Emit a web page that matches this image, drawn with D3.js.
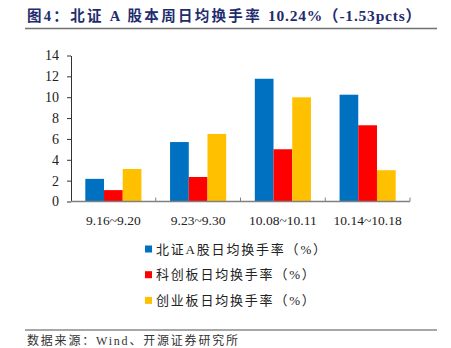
<!DOCTYPE html>
<html>
<head>
<meta charset="utf-8">
<script src="https://cdn.jsdelivr.net/npm/d3@7/dist/d3.min.js"></script>
<style>
  html, body { margin: 0; padding: 0; background: #fff; }
  svg { display: block; }
</style>
</head>
<body>
<svg id="chart" width="451" height="348"></svg>
<script>
// Weekly average turnover rate by board (%)
const categories = ["9.16~9.20", "9.23~9.30", "10.08~10.11", "10.14~10.18"];
const seriesNames = ["北证A股日均换手率（%）", "科创板日均换手率（%）", "创业板日均换手率（%）"];
const bseValues = [2.17, 5.7, 11.77, 10.24];
const starValues = [1.09, 2.35, 5.01, 7.31];
const chinextValues = [3.12, 6.48, 9.99, 3.0];
const yTicks = [0, 2, 4, 6, 8, 10, 12, 14];
const colors = ["#0070C0", "#FF0000", "#FFC000"];

const seriesValues = [bseValues, starValues, chinextValues];

const svg = d3.select("#chart");
const serif = "'Liberation Serif', 'Times New Roman', 'Noto Sans CJK SC', serif";
const cjk = "'Liberation Serif', 'Noto Sans CJK SC', serif";

// Title and rule
const title = svg.append("text")
  .attr("x", 27).attr("y", 21)
  .attr("font-family", cjk)
  .attr("font-size", 14.5)
  .attr("font-weight", "bold")
  .attr("fill", "#1F2C6E");
title.append("tspan").attr("letter-spacing", 2.3).text("图4：北证 A 股本周日均换手率 ");
title.append("tspan").attr("letter-spacing", 0.8).attr("font-size", 15.5).text("10.24%（-1.53pcts）");
svg.append("line")
  .attr("x1", 25).attr("x2", 437).attr("y1", 28.5).attr("y2", 28.5)
  .attr("stroke", "#707070").attr("stroke-width", 1.6);

// Scales
const x0 = d3.scaleBand().domain(categories).range([71, 410]).padding(0);
const x1 = d3.scaleBand().domain(d3.range(seriesNames.length))
  .range([0, x0.bandwidth()]).paddingInner(0).paddingOuter(0.765);
const y = d3.scaleLinear().domain([0, 14]).range([201.5, 55.5]);

// Bars
categories.forEach((c, ci) => {
  seriesValues.forEach((vals, si) => {
    svg.append("rect")
      .attr("x", x0(c) + x1(si))
      .attr("y", y(vals[ci]))
      .attr("width", x1.bandwidth())
      .attr("height", y(0) - y(vals[ci]))
      .attr("fill", colors[si]);
  });
});

// Y axis
const yAxis = svg.append("g")
  .attr("transform", "translate(71,0)")
  .call(d3.axisLeft(y).tickValues(yTicks).tickSize(4).tickSizeOuter(0).tickPadding(8));
yAxis.select(".domain").attr("stroke", "#333").attr("stroke-width", 1);
yAxis.selectAll(".tick line").attr("stroke", "#333");
yAxis.selectAll("text")
  .attr("font-family", serif).attr("font-size", 14).attr("fill", "#222");

// X axis with inward ticks at category boundaries
const xAxisG = svg.append("g").attr("transform", `translate(0,${y(0)})`);
xAxisG.append("line")
  .attr("x1", 71).attr("x2", 410).attr("y1", 0).attr("y2", 0)
  .attr("stroke", "#808080").attr("stroke-width", 1.5);
const boundaries = categories.map(c => x0(c) + x0.bandwidth());
xAxisG.selectAll(".bound").data(boundaries).enter().append("line")
  .attr("x1", d => d).attr("x2", d => d).attr("y1", 0).attr("y2", -4)
  .attr("stroke", "#808080").attr("stroke-width", 1);
xAxisG.selectAll(".cat").data(categories).enter().append("text")
  .attr("x", d => x0(d) + x0.bandwidth() / 2)
  .attr("y", 23)
  .attr("text-anchor", "middle")
  .attr("font-family", serif).attr("font-size", 13.5).attr("fill", "#222")
  .text(d => d);

// Legend
const legend = svg.append("g");
seriesNames.forEach((name, i) => {
  const ly = 249 + i * 25.7;
  legend.append("rect")
    .attr("x", 145).attr("y", ly - 3.5).attr("width", 7).attr("height", 7)
    .attr("fill", colors[i]);
  legend.append("text")
    .attr("x", 156).attr("y", ly + 4.5)
    .attr("font-family", cjk).attr("font-size", 13).attr("fill", "#222")
    .attr("letter-spacing", 1.8)
    .text(name);
});

// Source note
svg.append("line")
  .attr("x1", 25).attr("x2", 437).attr("y1", 330).attr("y2", 330)
  .attr("stroke", "#8a8a8a").attr("stroke-width", 1.5);
svg.append("text")
  .attr("x", 27).attr("y", 345)
  .attr("font-family", cjk).attr("font-size", 12).attr("fill", "#333")
  .attr("letter-spacing", 1.8)
  .text("数据来源：Wind、开源证券研究所");
</script>
</body>
</html>
